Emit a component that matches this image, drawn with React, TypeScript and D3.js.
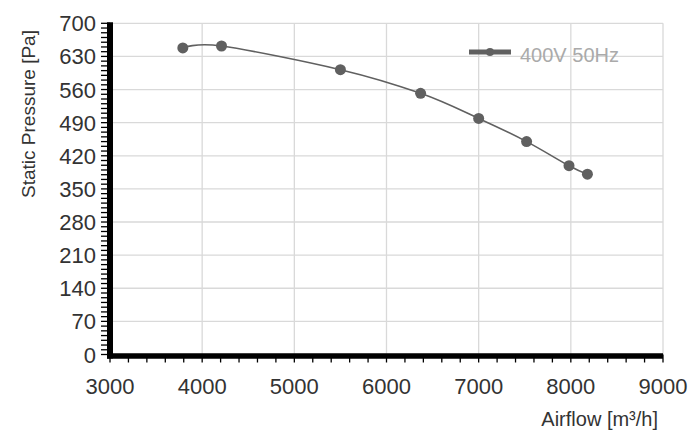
import React from "react";
import * as d3 from "d3";

const airflow = [3790, 4210, 5500, 6370, 7000, 7520, 7980, 8180];
const pressure = [648, 652, 602, 552, 499, 450, 399, 381];
const xTicks = [3000, 4000, 5000, 6000, 7000, 8000, 9000];
const yTicks = [0, 70, 140, 210, 280, 350, 420, 490, 560, 630, 700];
const seriesName = "400V 50Hz";
const xTitle = "Airflow [m³/h]";
const yTitle = "Static Pressure [Pa]";

const W = 700;
const H = 448;
const FONT = "'Liberation Sans', Arial, Helvetica, sans-serif";

export default function App() {
  const x = d3.scaleLinear().domain([3000, 9000]).range([110, 663]);
  const y = d3.scaleLinear().domain([0, 700]).range([354.5, 23.3]);
  const pts: [number, number][] = airflow.map((a, i) => [x(a), y(pressure[i])]);
  const line = d3.line<[number, number]>().curve(d3.curveCardinal.tension(0))(pts) || "";
  const xMinor = d3.range(3000, 9001, 200);
  const yMinor = d3.range(0, 701, 10);
  const grid = "#d9d9d9";
  const c = "#606060";
  return (
    <svg width={W} height={H} style={{ position: "absolute", left: 0, top: 0, background: "#fff" }}>
      <rect x={0} y={0} width={W} height={H} fill="#fff" />
      {/* grid */}
      {xTicks.map((t) => (
        <line key={"gx" + t} x1={x(t)} x2={x(t)} y1={y(700)} y2={y(0)} stroke={grid} strokeWidth={1.3} />
      ))}
      {yTicks.map((t) => (
        <line key={"gy" + t} x1={x(3000)} x2={x(9000)} y1={y(t)} y2={y(t)} stroke={grid} strokeWidth={1.3} />
      ))}
      {/* minor ticks */}
      {yMinor.map((t) => (
        <line key={"my" + t} x1={x(3000) - 9} x2={x(3000)} y1={y(t)} y2={y(t)} stroke="#000" strokeWidth={1.3} />
      ))}
      {xMinor.map((t) => (
        <line key={"mx" + t} x1={x(t)} x2={x(t)} y1={y(0)} y2={y(0) + 8} stroke="#000" strokeWidth={1.3} />
      ))}
      {/* axes */}
      <line x1={x(3000)} x2={x(3000)} y1={y(700) - 1} y2={y(0) + 4} stroke="#000" strokeWidth={6} />
      <line x1={x(3000) - 3} x2={x(9000)} y1={y(0) + 1.5} y2={y(0) + 1.5} stroke="#000" strokeWidth={5.5} />
      {/* tick labels */}
      {yTicks.map((t) => (
        <text key={"ly" + t} x={96} y={y(t) + 8} textAnchor="end" fontSize={22} fontFamily={FONT} fill="#333">
          {t}
        </text>
      ))}
      {xTicks.map((t) => (
        <text key={"lx" + t} x={x(t)} y={394} textAnchor="middle" fontSize={22} fontFamily={FONT} fill="#333">
          {t}
        </text>
      ))}
      {/* titles */}
      <text x={658} y={426} textAnchor="end" fontSize={20} fontFamily={FONT} fill="#333">
        {xTitle}
      </text>
      <text
        transform={`translate(35,114) rotate(-90)`}
        textAnchor="middle"
        fontSize={19}
        fontFamily={FONT}
        fill="#333"
      >
        {yTitle}
      </text>
      {/* series */}
      <path d={line} fill="none" stroke={c} strokeWidth={1.6} />
      {pts.map((p, i) => (
        <circle key={"p" + i} cx={p[0]} cy={p[1]} r={5.5} fill={c} />
      ))}
      {/* legend */}
      <line x1={469} x2={511} y1={52} y2={52} stroke={c} strokeWidth={5} />
      <circle cx={490} cy={52} r={4} fill={c} />
      <text x={520} y={61.5} fontSize={20} fontFamily={FONT} fill="#aaaaaa">
        {seriesName}
      </text>
    </svg>
  );
}
